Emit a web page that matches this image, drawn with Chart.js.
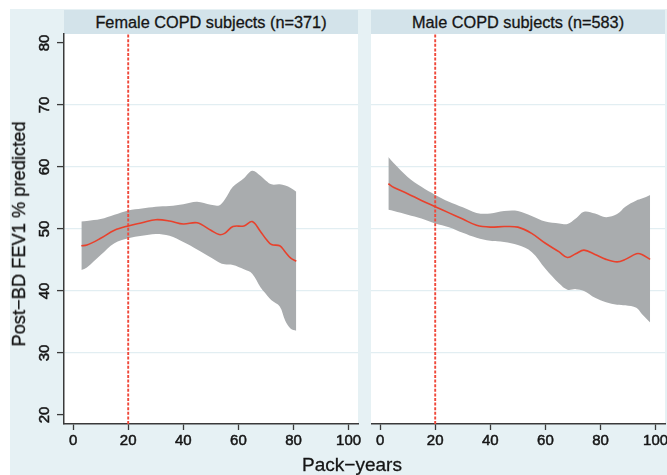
<!DOCTYPE html>
<html>
<head>
<meta charset="utf-8">
<script src="https://cdn.jsdelivr.net/npm/chart.js@4/dist/chart.umd.min.js"></script>
<style>
  body { margin: 0; width: 667px; height: 475px; overflow: hidden; background: #fff; position: relative;
         font-family: "Liberation Sans", Arial, sans-serif; color: #151515; }
  .bg { position: absolute; left: 10px; top: 9px; width: 657px; height: 466px; background: #e6f1f4; }
  .strip { position: absolute; top: 10px; height: 24px; width: 294px; background: #d3e3ea;
           text-align: center; line-height: 24px; font-size: 16.3px; -webkit-text-stroke: 0.3px #151515; }
  canvas { position: absolute; top: 24px; }
  .ytitle { position: absolute; left: 19px; top: 234px; font-size: 18.3px; white-space: nowrap;
            -webkit-text-stroke: 0.3px #151515;
            transform: translate(-50%, -50%) rotate(-90deg); }
  .xtitle { position: absolute; left: 352px; top: 465px; font-size: 19px; white-space: nowrap;
            -webkit-text-stroke: 0.3px #151515;
            transform: translate(-50%, -50%); }
</style>
</head>
<body>
<div class="bg"></div>
<div class="strip" style="left:64px">Female COPD subjects (n=371)</div>
<div class="strip" style="left:371px">Male COPD subjects (n=583)</div>
<canvas id="female" width="352" height="431" style="left:10px"></canvas>
<canvas id="male" width="309" height="431" style="left:371px"></canvas>
<div class="ytitle">Post&#8722;BD FEV1 % predicted</div>
<div class="xtitle">Pack&#8722;years</div>
<script>
// axis ticks
const xTicks = [0, 20, 40, 60, 80, 100];
const yTicks = [20, 30, 40, 50, 60, 70, 80];
const xMin = -3.3, xMax = 103.4;
const yMin = 18.55, yMax = 81.45;
const refX = 20; // pack-years cut-off

// Female COPD subjects
const femaleX     = [3, 5, 10, 15, 20, 25, 30, 35, 40, 45, 50, 53, 55, 58, 62, 65, 68, 70, 72, 75, 77, 79, 81];
const femaleFit   = [47.3, 47.4, 48.5, 49.8, 50.5, 51.0, 51.5, 51.3, 50.8, 51.0, 49.8, 49.1, 49.3, 50.4, 50.5, 51.2, 49.6, 48.4, 47.5, 47.3, 46.3, 45.3, 44.8];
const femaleUpper = [51.2, 51.3, 51.6, 52.3, 53.0, 53.3, 53.6, 53.7, 54.0, 54.4, 53.9, 53.8, 54.7, 56.8, 58.2, 59.4, 58.6, 57.8, 57.2, 57.2, 57.0, 56.6, 56.0];
const femaleLower = [43.4, 43.8, 45.8, 47.7, 48.5, 48.9, 49.2, 48.9, 47.9, 46.7, 45.4, 44.6, 44.3, 44.2, 43.5, 42.8, 40.6, 39.5, 38.5, 37.5, 35.2, 33.9, 33.6];

// Male COPD subjects
const maleX     = [3, 5, 10, 15, 20, 25, 30, 35, 40, 45, 50, 55, 60, 65, 68, 71, 74, 78, 82, 86, 89, 93, 95, 98];
const maleFit   = [57.3, 56.7, 55.7, 54.6, 53.6, 52.6, 51.6, 50.6, 50.3, 50.4, 50.3, 49.3, 47.7, 46.3, 45.4, 46.0, 46.6, 45.9, 45.1, 44.7, 45.1, 46.0, 45.9, 45.1];
const maleUpper = [61.6, 60.6, 58.4, 56.8, 55.5, 54.4, 53.5, 52.6, 52.5, 52.9, 52.9, 52.1, 51.2, 50.9, 50.8, 51.7, 52.8, 52.5, 51.9, 52.4, 53.6, 54.6, 54.9, 55.5];
const maleLower = [53.1, 52.9, 52.3, 51.7, 50.9, 50.3, 49.4, 48.6, 48.1, 47.9, 47.4, 46.3, 43.6, 41.2, 40.2, 40.3, 40.0, 38.9, 38.2, 37.8, 37.7, 37.3, 36.3, 34.9];

const FONT = '"Liberation Sans", Arial, sans-serif';
const INK = '#151515';

function pts(xs, ys) {
  return xs.map((x, i) => ({ x: x, y: ys[i] }));
}

const plotBg = {
  id: 'plotBg',
  beforeDraw(chart) {
    const a = chart.chartArea;
    const ctx = chart.ctx;
    ctx.save();
    ctx.fillStyle = '#ffffff';
    ctx.fillRect(a.left, a.top, a.right - a.left, a.bottom - a.top);
    ctx.restore();
  }
};

function makePanel(id, xs, fit, upper, lower, showY) {
  const ctx = document.getElementById(id);
  return new Chart(ctx, {
    type: 'line',
    data: {
      datasets: [{
        data: pts(xs, fit),
        borderColor: '#e8412c',
        borderWidth: 1.6,
        pointRadius: 0,
        tension: 0.35,
        fill: false
      }, {
        data: [{ x: refX, y: yMin }, { x: refX, y: yMax }],
        borderColor: '#f0483a',
        borderWidth: 1.9,
        borderDash: [3, 1.6],
        pointRadius: 0,
        fill: false
      }, {
        data: pts(xs, upper),
        borderWidth: 0,
        pointRadius: 0,
        tension: 0.35,
        backgroundColor: '#a9acae',
        fill: '+1'
      }, {
        data: pts(xs, lower),
        borderWidth: 0,
        pointRadius: 0,
        tension: 0.35,
        fill: false
      }]
    },
    options: {
      responsive: false,
      animation: false,
      events: [],
      layout: { padding: { top: 10, right: showY ? 4 : 15, left: 0, bottom: 0 } },
      plugins: { legend: { display: false }, tooltip: { enabled: false } },
      scales: {
        x: {
          type: 'linear',
          min: xMin,
          max: xMax,
          afterBuildTicks: s => { s.ticks = xTicks.map(v => ({ value: v })); },
          afterFit: s => { s.height = 31; s.paddingLeft = 0; s.paddingRight = 0; },
          border: { display: true, color: '#3a3a3a', width: 1.5 },
          grid: { color: 'rgba(0,0,0,0)', tickColor: '#3a3a3a', tickLength: 6, tickWidth: 1.3 },
          ticks: {
            font: { family: FONT, size: 15 }, color: INK, padding: 2, maxRotation: 0, autoSkip: false,
            textStrokeColor: INK, textStrokeWidth: 0.5
          }
        },
        y: {
          type: 'linear',
          min: yMin,
          max: yMax,
          afterBuildTicks: s => { s.ticks = yTicks.map(v => ({ value: v })); },
          afterFit: s => { s.width = showY ? 54 : 0; s.paddingTop = 0; s.paddingBottom = 0; },
          border: { display: showY, color: '#3a3a3a', width: 1.5 },
          grid: {
            color: c => (c.tick && c.tick.value > 20 && c.tick.value < 80) ? '#e2eef2' : 'rgba(0,0,0,0)',
            lineWidth: 1.2,
            drawTicks: showY,
            tickColor: '#3a3a3a',
            tickLength: 7,
            tickWidth: 1.3
          },
          ticks: {
            display: showY,
            font: { family: FONT, size: 15 },
            color: INK,
            textStrokeColor: INK,
            textStrokeWidth: 0.5,
            minRotation: 90,
            maxRotation: 90,
            crossAlign: 'center',
            padding: 4,
            autoSkip: false
          }
        }
      }
    },
    plugins: [plotBg]
  });
}

makePanel('female', femaleX, femaleFit, femaleUpper, femaleLower, true);
makePanel('male', maleX, maleFit, maleUpper, maleLower, false);
</script>
</body>
</html>
